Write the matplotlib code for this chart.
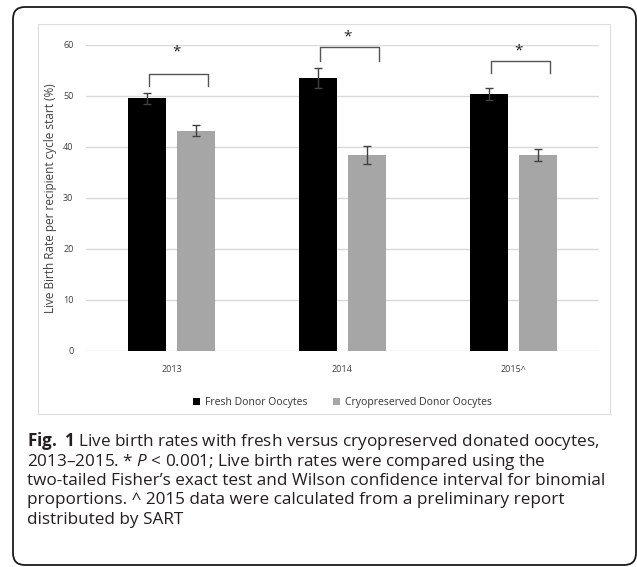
import matplotlib
matplotlib.use("Agg")
import matplotlib.pyplot as plt
from matplotlib.patches import FancyBboxPatch, Rectangle
import numpy as np

# data
years = ["2013", "2014", "2015^"]
fresh = [49.5, 53.5, 50.4]
fresh_err = [1.1, 2.0, 1.2]
cryo = [43.2, 38.4, 38.4]
cryo_err = [1.1, 1.7, 1.2]
# significance brackets (data units)
bracket_top = [54.3, 59.6, 56.9]
bracket_leg = [52.0, 56.9, 54.5]
star_y = [58.6, 61.6, 58.8]

caption = [
    r"$\bf{Fig.}$$\bf{\ 1}$ Live birth rates with fresh versus cryopreserved donated oocytes,",
    r"2013–2015. * $\it{P}$ < 0.001; Live birth rates were compared using the",
    "two-tailed Fisher’s exact test and Wilson confidence interval for binomial",
    "proportions. ^ 2015 data were calculated from a preliminary report",
    "distributed by SART",
]

plt.rcParams['font.family'] = ['Open Sans', 'DejaVu Sans']
plt.rcParams['mathtext.fontset'] = 'custom'
plt.rcParams['mathtext.rm'] = 'Open Sans'
plt.rcParams['mathtext.it'] = 'Open Sans:italic'
plt.rcParams['mathtext.bf'] = 'Open Sans:bold'

fig = plt.figure(figsize=(6.37, 5.67), dpi=100)

# outer rounded frame and chart area border
fig.patches.append(FancyBboxPatch((0.13, 0.02), 6.23, 5.58,
                                  boxstyle="round,pad=0,rounding_size=0.12",
                                  transform=fig.dpi_scale_trans, fill=False,
                                  ec="#1a1a1a", lw=1.3))
fig.patches.append(Rectangle((0.38, 1.53), 5.72, 3.90, transform=fig.dpi_scale_trans,
                             fill=False, ec="#dddddd", lw=0.8))

ax = fig.add_axes([0.135, 0.381, 0.805, 0.540])

x = np.arange(len(years))
w = 0.222
off = 0.143
err_kw = dict(ecolor="#404040", elinewidth=1.0, capsize=3, capthick=1.0)
ax.bar(x - off, fresh, w, color="black", yerr=fresh_err, error_kw=err_kw,
       label="Fresh Donor Oocytes", zorder=3)
ax.bar(x + off, cryo, w, color="#a6a6a6", yerr=cryo_err, error_kw=err_kw,
       label="Cryopreserved Donor Oocytes", zorder=3)

for i in range(len(years)):
    left = x[i] - off + 0.01
    right = left + 0.345
    ax.plot([left, left, right, right],
            [bracket_leg[i], bracket_top[i], bracket_top[i], bracket_leg[i]],
            color="#555555", lw=1.0, clip_on=False, zorder=4)
    ax.text(x[i] + 0.03, star_y[i], "*", ha="center", va="center",
            fontsize=11, color="#222222", clip_on=False)

ax.set_xlim(-0.5, 2.5)
ax.set_ylim(0, 60)
ax.set_yticks(range(0, 61, 10))
ax.set_xticks(x)
ax.set_xticklabels(years)
ax.grid(axis="y", color="#d9d9d9", lw=1.0, zorder=0)
for s in ax.spines.values():
    s.set_visible(False)
ax.tick_params(axis="both", length=0, labelsize=6.5, colors="#404040")
ax.tick_params(axis="y", pad=9)
ax.tick_params(axis="x", pad=10)
ax.set_ylabel("Live Birth Rate per recipient cycle start (%)", fontsize=8.5,
              color="#404040", labelpad=4)

ax.legend(loc="center", bbox_to_anchor=(0.5, -0.168), ncol=2, frameon=False,
          fontsize=7.5, handlelength=0.7, handleheight=0.7, columnspacing=2.5,
          handletextpad=0.4, labelcolor="#333333")

base = [1.21, 1.015, 0.82, 0.625, 0.43]
for line, b in zip(caption, base):
    fig.text(0.27, b, line, fontsize=12.3, color="#231f20", va="baseline",
             ha="left", transform=fig.dpi_scale_trans)

fig.savefig("out.png", dpi=100)
